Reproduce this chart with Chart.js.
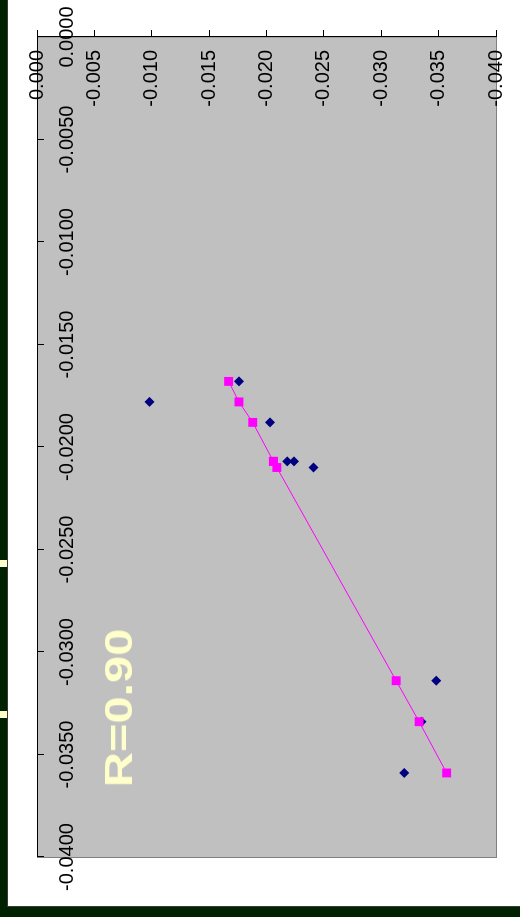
<!DOCTYPE html>
<html>
<head>
<meta charset="utf-8">
<script src="https://cdn.jsdelivr.net/npm/chart.js@4/dist/chart.umd.min.js"></script>
<style>
  html, body { margin: 0; padding: 0; }
  body { width: 520px; height: 917px; background: #002200; position: relative; overflow: hidden; }
  .tab { position: absolute; left: 0; width: 7px; height: 7px; background: #FFFFCC; }
  #edge { position: absolute; left: 7px; top: 0; width: 1px; height: 907px; background: #3a3a3a; }
  #foot { position: absolute; left: 7px; top: 906px; width: 513px; height: 1px; background: #3a3a3a; }
  /* the sheet is laid out landscape and turned a quarter turn */
  #page { position: absolute; left: 0; top: 0; width: 906px; height: 512px; background: #ffffff;
          transform-origin: 0 0; transform: translate(8px, 906px) rotate(-90deg); }
  #chart { position: absolute; left: 0; top: 0; width: 906px; height: 512px; }
  #rlabel { position: absolute; left: 198px; top: 111px; white-space: nowrap; line-height: 1;
            font: bold 39px Arial, "Liberation Sans", sans-serif; color: #FFFFCC;
            transform: translate(-50%, -50%) scaleX(1.25); }
</style>
</head>
<body>
<div class="tab" style="top:560px"></div>
<div class="tab" style="top:711px"></div>
<div id="edge"></div>
<div id="foot"></div>
<div id="page">
  <canvas id="chart" width="906" height="512"></canvas>
  <div id="rlabel">R=0.90</div>
</div>
<script>
// horizontal-axis values shared by both series
const xValues   = [-0.0168, -0.0178, -0.0188, -0.0207, -0.0207, -0.0210, -0.0314, -0.0334, -0.0359];
// measured values (diamonds)
const observedY = [-0.0176, -0.0098, -0.0203, -0.0218, -0.0224, -0.0241, -0.0348, -0.0335, -0.0320];
// regression values (squares joined by the fit line)
const fittedY   = [-0.0167, -0.0176, -0.0188, -0.0206, -0.0206, -0.0209, -0.0313, -0.0333, -0.0357];

const xTickLabels = ['-0.0400', '-0.0350', '-0.0300', '-0.0250', '-0.0200', '-0.0150', '-0.0100', '-0.0050', '0.0000'];
const yTickLabels = ['-0.040', '-0.035', '-0.030', '-0.025', '-0.020', '-0.015', '-0.010', '-0.005', '0.000'];

const FONT = 'Arial, "Liberation Sans", sans-serif';

const plotBackground = {
  id: 'plotBackground',
  beforeDraw(chart) {
    const { ctx, chartArea: a } = chart;
    ctx.save();
    ctx.fillStyle = '#C0C0C0';
    ctx.fillRect(a.left, a.top, a.right - a.left, a.bottom - a.top);
    ctx.strokeStyle = '#808080';
    ctx.lineWidth = 1;
    ctx.strokeRect(a.left - 0.5, a.top + 0.5, a.right - a.left + 0.5, a.bottom - a.top);
    ctx.restore();
  }
};

// fixed axis bands; labels sit inside the plot so no extra edge room is needed
function fixBand(prop, size) {
  return s => {
    s[prop] = size;
    s.paddingLeft = 0; s.paddingRight = 0; s.paddingTop = 0; s.paddingBottom = 0;
  };
}

new Chart(document.getElementById('chart'), {
  type: 'scatter',
  data: {
    datasets: [
      {
        label: 'Fitted',
        data: xValues.map((x, i) => ({ x, y: fittedY[i] })),
        showLine: true,
        tension: 0,
        borderColor: '#FF00FF',
        borderWidth: 1,
        pointStyle: 'rect',
        pointRadius: 6.3,
        pointBackgroundColor: '#FF00FF',
        pointBorderColor: '#FF00FF',
        pointBorderWidth: 0
      },
      {
        label: 'Observed',
        data: xValues.map((x, i) => ({ x, y: observedY[i] })),
        showLine: false,
        pointStyle: 'rectRot',
        pointRadius: 5,
        pointBackgroundColor: '#000080',
        pointBorderColor: '#000080',
        pointBorderWidth: 0
      }
    ]
  },
  options: {
    responsive: false,
    animation: false,
    devicePixelRatio: 1,
    layout: { padding: { left: 49, right: 0, top: 0, bottom: 24 } },
    plugins: { legend: { display: false }, tooltip: { enabled: false } },
    scales: {
      x: {
        type: 'linear',
        position: 'top',
        min: -0.04,
        max: 0,
        afterFit: fixBand('height', 29),
        border: { display: true, color: '#000000', width: 1 },
        grid: { drawOnChartArea: false, drawTicks: true, tickLength: -7, color: '#000000' },
        ticks: {
          stepSize: 0.005,
          mirror: true,
          padding: 18,
          autoSkip: false,
          minRotation: 0,
          maxRotation: 0,
          color: '#000000',
          font: { family: FONT, size: 20 },
          callback: (v, i) => xTickLabels[i]
        }
      },
      y: {
        type: 'linear',
        position: 'right',
        min: -0.04,
        max: 0,
        afterFit: fixBand('width', 37),
        border: { display: true, color: '#000000', width: 1 },
        grid: { drawOnChartArea: false, drawTicks: true, tickLength: 7, color: '#000000' },
        ticks: {
          stepSize: 0.005,
          mirror: true,
          padding: -13,
          autoSkip: false,
          color: '#000000',
          font: { family: FONT, size: 20 },
          callback: (v, i) => yTickLabels[i]
        }
      }
    }
  },
  plugins: [plotBackground]
});
</script>
</body>
</html>
